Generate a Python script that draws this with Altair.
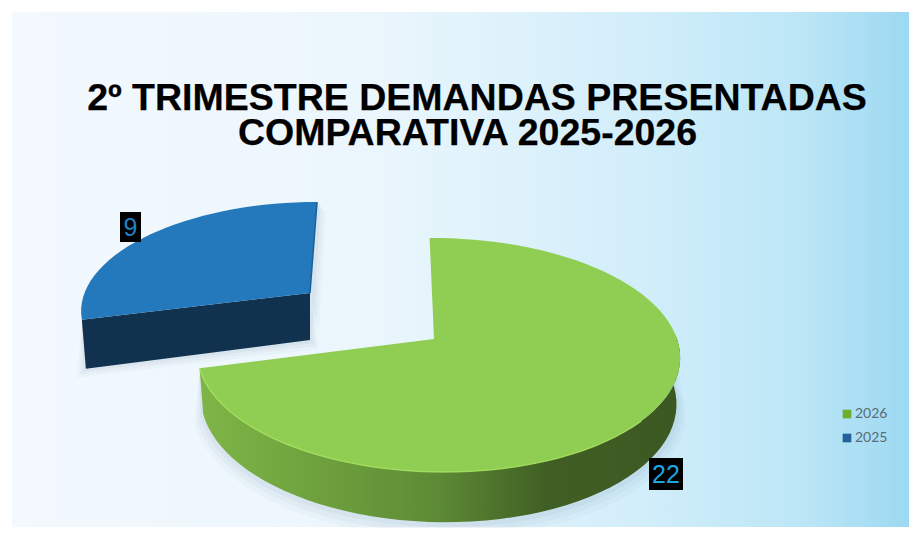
import math
import altair as alt
import pandas as pd

CATEGORIES = ["2026", "2025"]
VALUES = [22, 9]
TITLE_LINES = ["2º TRIMESTRE DEMANDAS PRESENTADAS", "COMPARATIVA 2025-2026"]
COLORS = ["#6fae2c", "#24609a"]

W, H = 901, 520
OX, OY = 8, 8  # page margin
TOTAL = sum(VALUES)
GREEN_END = 360 * VALUES[0] / TOTAL


def rim(deg, ax, ay, A, B, sk, k=0.137, h=0.0, dx=0.0, dy=0.0, shrink=1.0):
    t = math.radians(deg)
    w = 1 + k * math.cos(t) + h * math.sin(t)
    return (ax + (A * math.sin(t) - sk * math.cos(t)) * shrink / w + dx,
            ay - B * math.cos(t) * shrink / w + dy / w)


def angles(a, b, step=3):
    n = max(2, int(abs(b - a) / step))
    return [a + (b - a) * i / n for i in range(n + 1)]


def frame(pts):
    return pd.DataFrame({"px": [p[0] - OX for p in pts],
                         "py": [p[1] - OY for p in pts],
                         "ord": range(len(pts))})


X = alt.X("px:Q", scale=alt.Scale(domain=[0, W]), axis=None)
Y = alt.Y("py:Q", scale=alt.Scale(domain=[H, 0]), axis=None)


def poly(pts, fill, **kw):
    return alt.Chart(frame(pts)).mark_line(fill=fill, strokeWidth=0, **kw).encode(
        x=X, y=Y, order="ord:Q")


def hgrad(stops):
    return alt.Gradient(gradient="linear", x1=0, x2=1, y1=0, y2=0,
                        stops=[alt.GradientStop(offset=o, color=c) for o, c in stops])


G = dict(ax=434, ay=339, A=239, B=114.8, sk=5, h=-0.0167)
BL = dict(ax=310, ay=293, A=225.5, B=103.5, sk=-8)
DEPTH = 45

# background
bg = alt.Chart(pd.DataFrame({"a": [0]})).mark_rect(
    fill=hgrad([(0, "#f3f9fe"), (0.4, "#ebf6fc"), (0.7, "#d2eefa"), (0.88, "#bce6f6"), (1, "#9cd9f2")])
).encode(x=alt.value(4), x2=alt.value(W), y=alt.value(4), y2=alt.value(519))

layers = [bg]

# soft shadows
wall_angles = angles(88, GREEN_END)
for grow, op in [(9, 0.04), (6, 0.05), (3, 0.06)]:
    top = [rim(a, **G) for a in wall_angles]
    bot = [rim(a, **G, dy=DEPTH + grow, shrink=0.985 + grow / 240) for a in reversed(wall_angles)]
    layers.append(poly(top + bot, "#5b7f95", opacity=op))
    b0 = rim(GREEN_END, **BL)
    blue_front = [b0, (BL["ax"], BL["ay"]), (BL["ax"] + grow, BL["ay"] + 47 + grow),
                  (b0[0] + 4 - grow, b0[1] + 49 + grow)]
    layers.append(poly(blue_front, "#5b7f95", opacity=op))
    b1 = rim(360, **BL)
    blue_side = [b1, (b1[0] + grow, b1[1] + 10), (BL["ax"] + grow, BL["ay"] + 40), (BL["ax"], BL["ay"])]
    layers.append(poly(blue_side, "#5b7f95", opacity=op))

# blue slice: front wall, edge, top
b_left = rim(GREEN_END, **BL)
b_edge = rim(360, **BL)
layers.append(poly([b_left, (BL["ax"], BL["ay"]), (BL["ax"], BL["ay"] + 47),
                    (b_left[0] + 4, b_left[1] + 49)], "#10324e"))
blue_top = [(BL["ax"], BL["ay"])] + [rim(a, **BL) for a in angles(GREEN_END, 360)]
layers.append(poly(blue_top, "#2479bd"))
layers.append(alt.Chart(frame([b_edge, (BL["ax"], BL["ay"])])).mark_line(
    color="#1b6199", strokeWidth=1.5).encode(x=X, y=Y, order="ord:Q"))

# green slice: wall, top, highlight
g_wall_top = [rim(a, **G) for a in wall_angles]
g_wall_bot = [rim(a, **G, dy=DEPTH, shrink=0.985) for a in reversed(wall_angles)]
layers.append(poly(g_wall_top + g_wall_bot, hgrad([
    (0, "#7fb548"), (0.2, "#71a53f"), (0.5, "#5d8a35"), (0.72, "#405f24"), (1, "#3c5822")])))
green_top = [(G["ax"], G["ay"])] + [rim(a, **G) for a in angles(0, GREEN_END)]
layers.append(poly(green_top, "#8fce52"))
layers.append(alt.Chart(frame([rim(a, **G) for a in angles(130, GREEN_END)])).mark_line(
    color="#a6e45e", strokeWidth=1.4, opacity=0.8).encode(x=X, y=Y, order="ord:Q"))

# data labels
labels = pd.DataFrame({
    "x0": [649 - OX, 120 - OX], "x1": [683 - OX, 141 - OX],
    "y0": [458 - OY, 212 - OY], "y1": [490 - OY, 242 - OY],
    "xm": [666 - OX, 130.5 - OX], "ym": [475 - OY, 228 - OY],
    "label": [str(v) for v in VALUES],
    "tc": ["#1ea5e0", "#2280c4"],
})
layers.append(alt.Chart(labels).mark_rect(fill="#000000").encode(
    x=alt.X("x0:Q", scale=alt.Scale(domain=[0, W]), axis=None), x2="x1:Q",
    y=alt.Y("y0:Q", scale=alt.Scale(domain=[H, 0]), axis=None), y2="y1:Q"))
layers.append(alt.Chart(labels).mark_text(font="Liberation Sans", fontSize=25, baseline="middle").encode(
    x=alt.X("xm:Q", scale=alt.Scale(domain=[0, W]), axis=None),
    y=alt.Y("ym:Q", scale=alt.Scale(domain=[H, 0]), axis=None),
    text="label:N", color=alt.Color("tc:N", scale=None)))

# title
title = pd.DataFrame({"t": TITLE_LINES, "xm": [477 - OX, 467.5 - OX], "ym": [110 - OY, 145 - OY]})
layers.append(alt.Chart(title).mark_text(font="Liberation Sans", fontWeight="bold", baseline="alphabetic",
                                         align="center", color="#000000", fontSize=37.5,
                                         stroke="#000000", strokeWidth=0.25).encode(
    x=alt.X("xm:Q", scale=alt.Scale(domain=[0, W]), axis=None),
    y=alt.Y("ym:Q", scale=alt.Scale(domain=[H, 0]), axis=None),
    text="t:N"))

# legend
leg = pd.DataFrame({"serie": CATEGORIES, "v": VALUES})
layers.append(alt.Chart(leg).mark_square(size=0).encode(
    x=alt.value(0), y=alt.value(0),
    color=alt.Color("serie:N", sort=CATEGORIES,
                    scale=alt.Scale(domain=CATEGORIES, range=COLORS),
                    legend=alt.Legend(title=None, orient="none", legendX=832, legendY=399,
                                      symbolType="square", symbolSize=75, symbolOpacity=1,
                                      labelFont="Lato", labelFontSize=14, labelColor="#5d6b76",
                                      rowPadding=10, labelOffset=1, symbolStrokeWidth=0))))

chart = alt.layer(*layers).resolve_scale(color="independent").properties(
    width=W, height=H, padding=0, autosize=alt.AutoSizeParams(type="none")
).configure_view(stroke=None)

chart.save("out.html", embed_options={"renderer": "svg", "actions": False})
